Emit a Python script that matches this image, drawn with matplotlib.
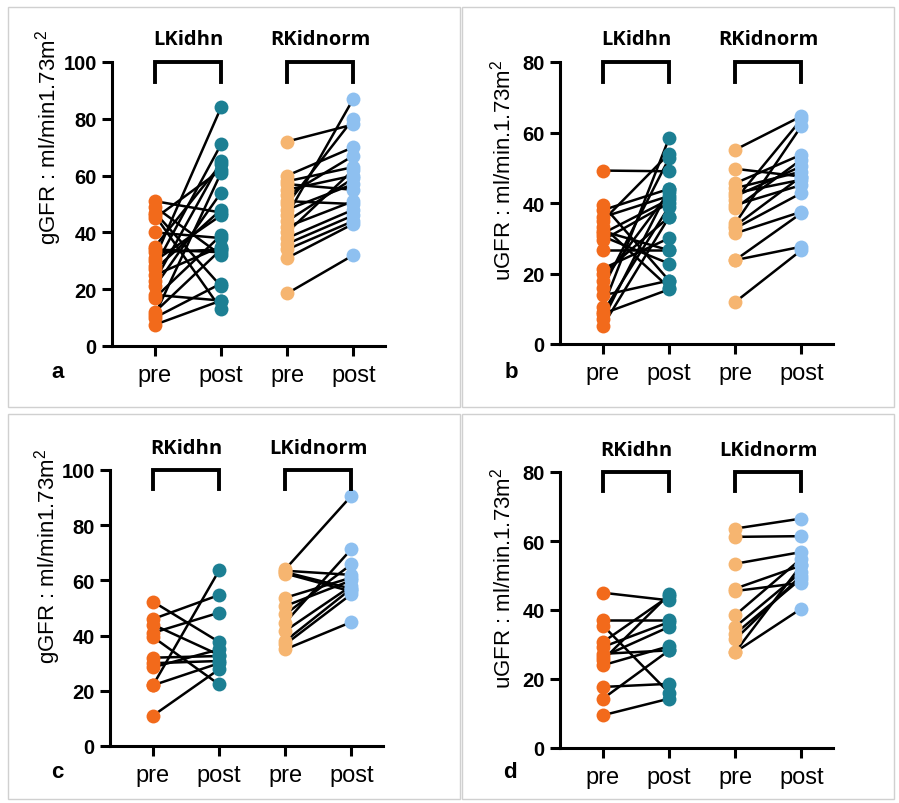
import matplotlib
matplotlib.use("Agg")
import matplotlib.pyplot as plt
from matplotlib.patches import Rectangle

# ---------------- data ----------------
groups = ["pre", "post", "pre", "post"]

# panel a (gGFR)
a_names = ["LKidhn", "RKidnorm"]
a_hn_pre = [51, 49, 47, 46, 45, 40, 35, 34, 33, 31, 30, 28, 27, 25, 23, 21, 18, 17, 12, 11, 10, 7.5]
a_hn_post = [47, 32, 21, 13, 62, 38, 64, 33, 34, 84, 46, 71, 48, 35, 65, 54, 16, 39, 34, 61, 22, 16]
a_no_pre = [72, 60, 58, 57, 55, 53, 51, 50, 48, 46, 44, 42, 40, 38, 36, 34, 31, 18.5]
a_no_post = [78, 70, 63, 55, 60, 67, 50, 80, 57, 87, 59, 51, 62, 48, 46, 44, 43, 32]

# panel b (uGFR)
b_names = ["LKidhn", "RKidnorm"]
b_hn_pre = [49.2, 39.4, 38, 36, 35, 33.3, 32, 31.4, 30.5, 29.5, 26.6, 21.4, 20, 18, 16, 13.8, 10.5, 9, 8.6, 7, 5.2]
b_hn_post = [49, 18, 44, 42, 54, 16, 26.6, 41, 22.8, 40, 26.6, 30, 36, 43, 52.7, 18, 58.4, 39, 15.5, 44, 36]
b_no_pre = [55.1, 49.7, 45.6, 44.2, 42.8, 41.9, 40.9, 39.4, 38.5, 34.2, 32.8, 31.4, 33.5, 23.8, 23.8, 11.9]
b_no_post = [64.6, 47.5, 53.7, 48.9, 46.6, 50.4, 63.7, 45.1, 52.3, 61.8, 42.8, 37.5, 47.5, 37.1, 27.6, 26.6]

# panel c (gGFR)
c_names = ["RKidhn", "LKidnorm"]
c_hn_pre = [52.3, 46, 44, 41, 39.5, 32, 30, 28.5, 22, 22, 11]
c_hn_post = [37.7, 54.7, 33, 48.3, 22.3, 32.6, 30.8, 35, 63.6, 30, 27.8]
c_no_pre = [64, 63.5, 63, 62.5, 53.7, 50.7, 47.7, 44.7, 41.7, 38, 36.8, 35]
c_no_post = [90.6, 62, 57, 56, 61, 60, 65.8, 71.3, 58, 57, 55, 44.9]

# panel d (uGFR)
d_names = ["RKidhn", "LKidnorm"]
d_hn_pre = [45, 37, 35.5, 30.7, 29.3, 27.3, 26.5, 25.5, 24, 17.7, 14.3, 9.5]
d_hn_post = [42.8, 37, 16, 44, 36.5, 28.3, 35.1, 44.5, 29.5, 18.6, 28.3, 14.3]
d_no_pre = [63.6, 61.2, 53.4, 46.2, 45.5, 38.5, 35.1, 33.1, 31.5, 27.8, 27.8]
d_no_post = [66.5, 61.4, 56.8, 52.9, 47.9, 54.9, 51, 49.1, 50, 53, 40.4]

ylabels = ["gGFR : ml/min1.73m$^2$", "uGFR : ml/min.1.73m$^2$",
           "gGFR : ml/min1.73m$^2$", "uGFR : ml/min.1.73m$^2$"]
ymaxes = [100, 80, 100, 80]
letters = ["a", "b", "c", "d"]

C_PRE = "#F26A1B"
C_POST = "#1C7F93"
C_PRE2 = "#F6B570"
C_POST2 = "#8EC0F0"

FONT = ["Liberation Sans", "DejaVu Sans"]
plt.rcParams["font.family"] = FONT
plt.rcParams["mathtext.fontset"] = "custom"
plt.rcParams["mathtext.rm"] = "Liberation Sans"
plt.rcParams["mathtext.it"] = "Liberation Sans"

W, H = 899, 804
fig = plt.figure(figsize=(W / 100, H / 100), dpi=100)

def fx(px):
    return px / W

def fy(py):
    return 1 - py / H

# panel frames (light gray)
frames = [(8, 8, 460, 408), (462, 8, 894, 408), (8, 415, 460, 800), (462, 415, 894, 800)]
for (x0, y0, x1, y1) in frames:
    fig.patches.append(Rectangle((fx(x0), fy(y1)), fx(x1) - fx(x0), fy(y0) - fy(y1),
                                 transform=fig.transFigure, fill=False,
                                 edgecolor="#d0d0d0", linewidth=1.0))

axes_px = [(112, 63, 385, 347), (560, 63, 833, 345), (110, 471, 383, 747), (560, 473, 833, 749)]
panels = [
    (a_names, a_hn_pre, a_hn_post, a_no_pre, a_no_post),
    (b_names, b_hn_pre, b_hn_post, b_no_pre, b_no_post),
    (c_names, c_hn_pre, c_hn_post, c_no_pre, c_no_post),
    (d_names, d_hn_pre, d_hn_post, d_no_pre, d_no_post),
]
letter_px = [(51, 378), (505, 378), (51, 778), (503, 778)]
label_pos = [(-0.234, 0.74), (-0.21, 0.62), (-0.23, 0.69), (-0.209, 0.62)]

for i, (ax_box, pdata) in enumerate(zip(axes_px, panels)):
    x0, y0, x1, y1 = ax_box
    ax = fig.add_axes([fx(x0), fy(y1), fx(x1) - fx(x0), fy(y0) - fy(y1)])
    names, hpre, hpost, npre, npost = pdata
    ymax = ymaxes[i]
    for p, q in zip(hpre, hpost):
        ax.plot([0, 1], [p, q], color="black", lw=1.8, zorder=2)
    for p, q in zip(npre, npost):
        ax.plot([2, 3], [p, q], color="black", lw=1.8, zorder=2)
    ax.scatter([0] * len(hpre), hpre, s=100, color=C_PRE, zorder=3, linewidths=0)
    ax.scatter([1] * len(hpost), hpost, s=100, color=C_POST, zorder=3, linewidths=0)
    ax.scatter([2] * len(npre), npre, s=100, color=C_PRE2, zorder=3, linewidths=0)
    ax.scatter([3] * len(npost), npost, s=100, color=C_POST2, zorder=3, linewidths=0)

    ax.set_ylim(0, ymax)
    ax.set_xlim(-0.65, 3.48)
    step = 20
    ax.set_yticks(range(0, ymax + 1, step))
    ax.set_xticks(range(4))
    ax.set_xticklabels(groups, fontsize=17)
    for lab in ax.get_yticklabels():
        lab.set_fontweight("bold")
        lab.set_fontsize(14.5)
    ax.spines["top"].set_visible(False)
    ax.spines["right"].set_visible(False)
    ax.spines["left"].set_linewidth(2.2)
    ax.spines["bottom"].set_linewidth(2.2)
    ax.tick_params(axis="both", width=2.2, length=7, direction="out", pad=4)
    ax.tick_params(axis="x", pad=6)
    lab = ax.set_ylabel(ylabels[i], fontsize=16)
    lab.set_va("center")
    ax.yaxis.set_label_coords(*label_pos[i])

    # brackets and group titles
    top = ymax
    leg = ymax * 0.93
    for xa, xb, nm in [(0, 1, names[0]), (2, 3, names[1])]:
        ax.plot([xa, xa, xb, xb], [leg, top, top, leg], color="black", lw=2.8,
                solid_joinstyle="miter", clip_on=False, zorder=4)
        ax.text((xa + xb) / 2, ymax * 1.045, nm, ha="center", va="bottom",
                fontsize=14.5, fontweight="bold", family=["Open Sans", "DejaVu Sans"])

    lx, ly = letter_px[i]
    fig.text(fx(lx), fy(ly), letters[i], fontsize=16, fontweight="bold", ha="left", va="baseline")

fig.savefig("out.png", dpi=100)
